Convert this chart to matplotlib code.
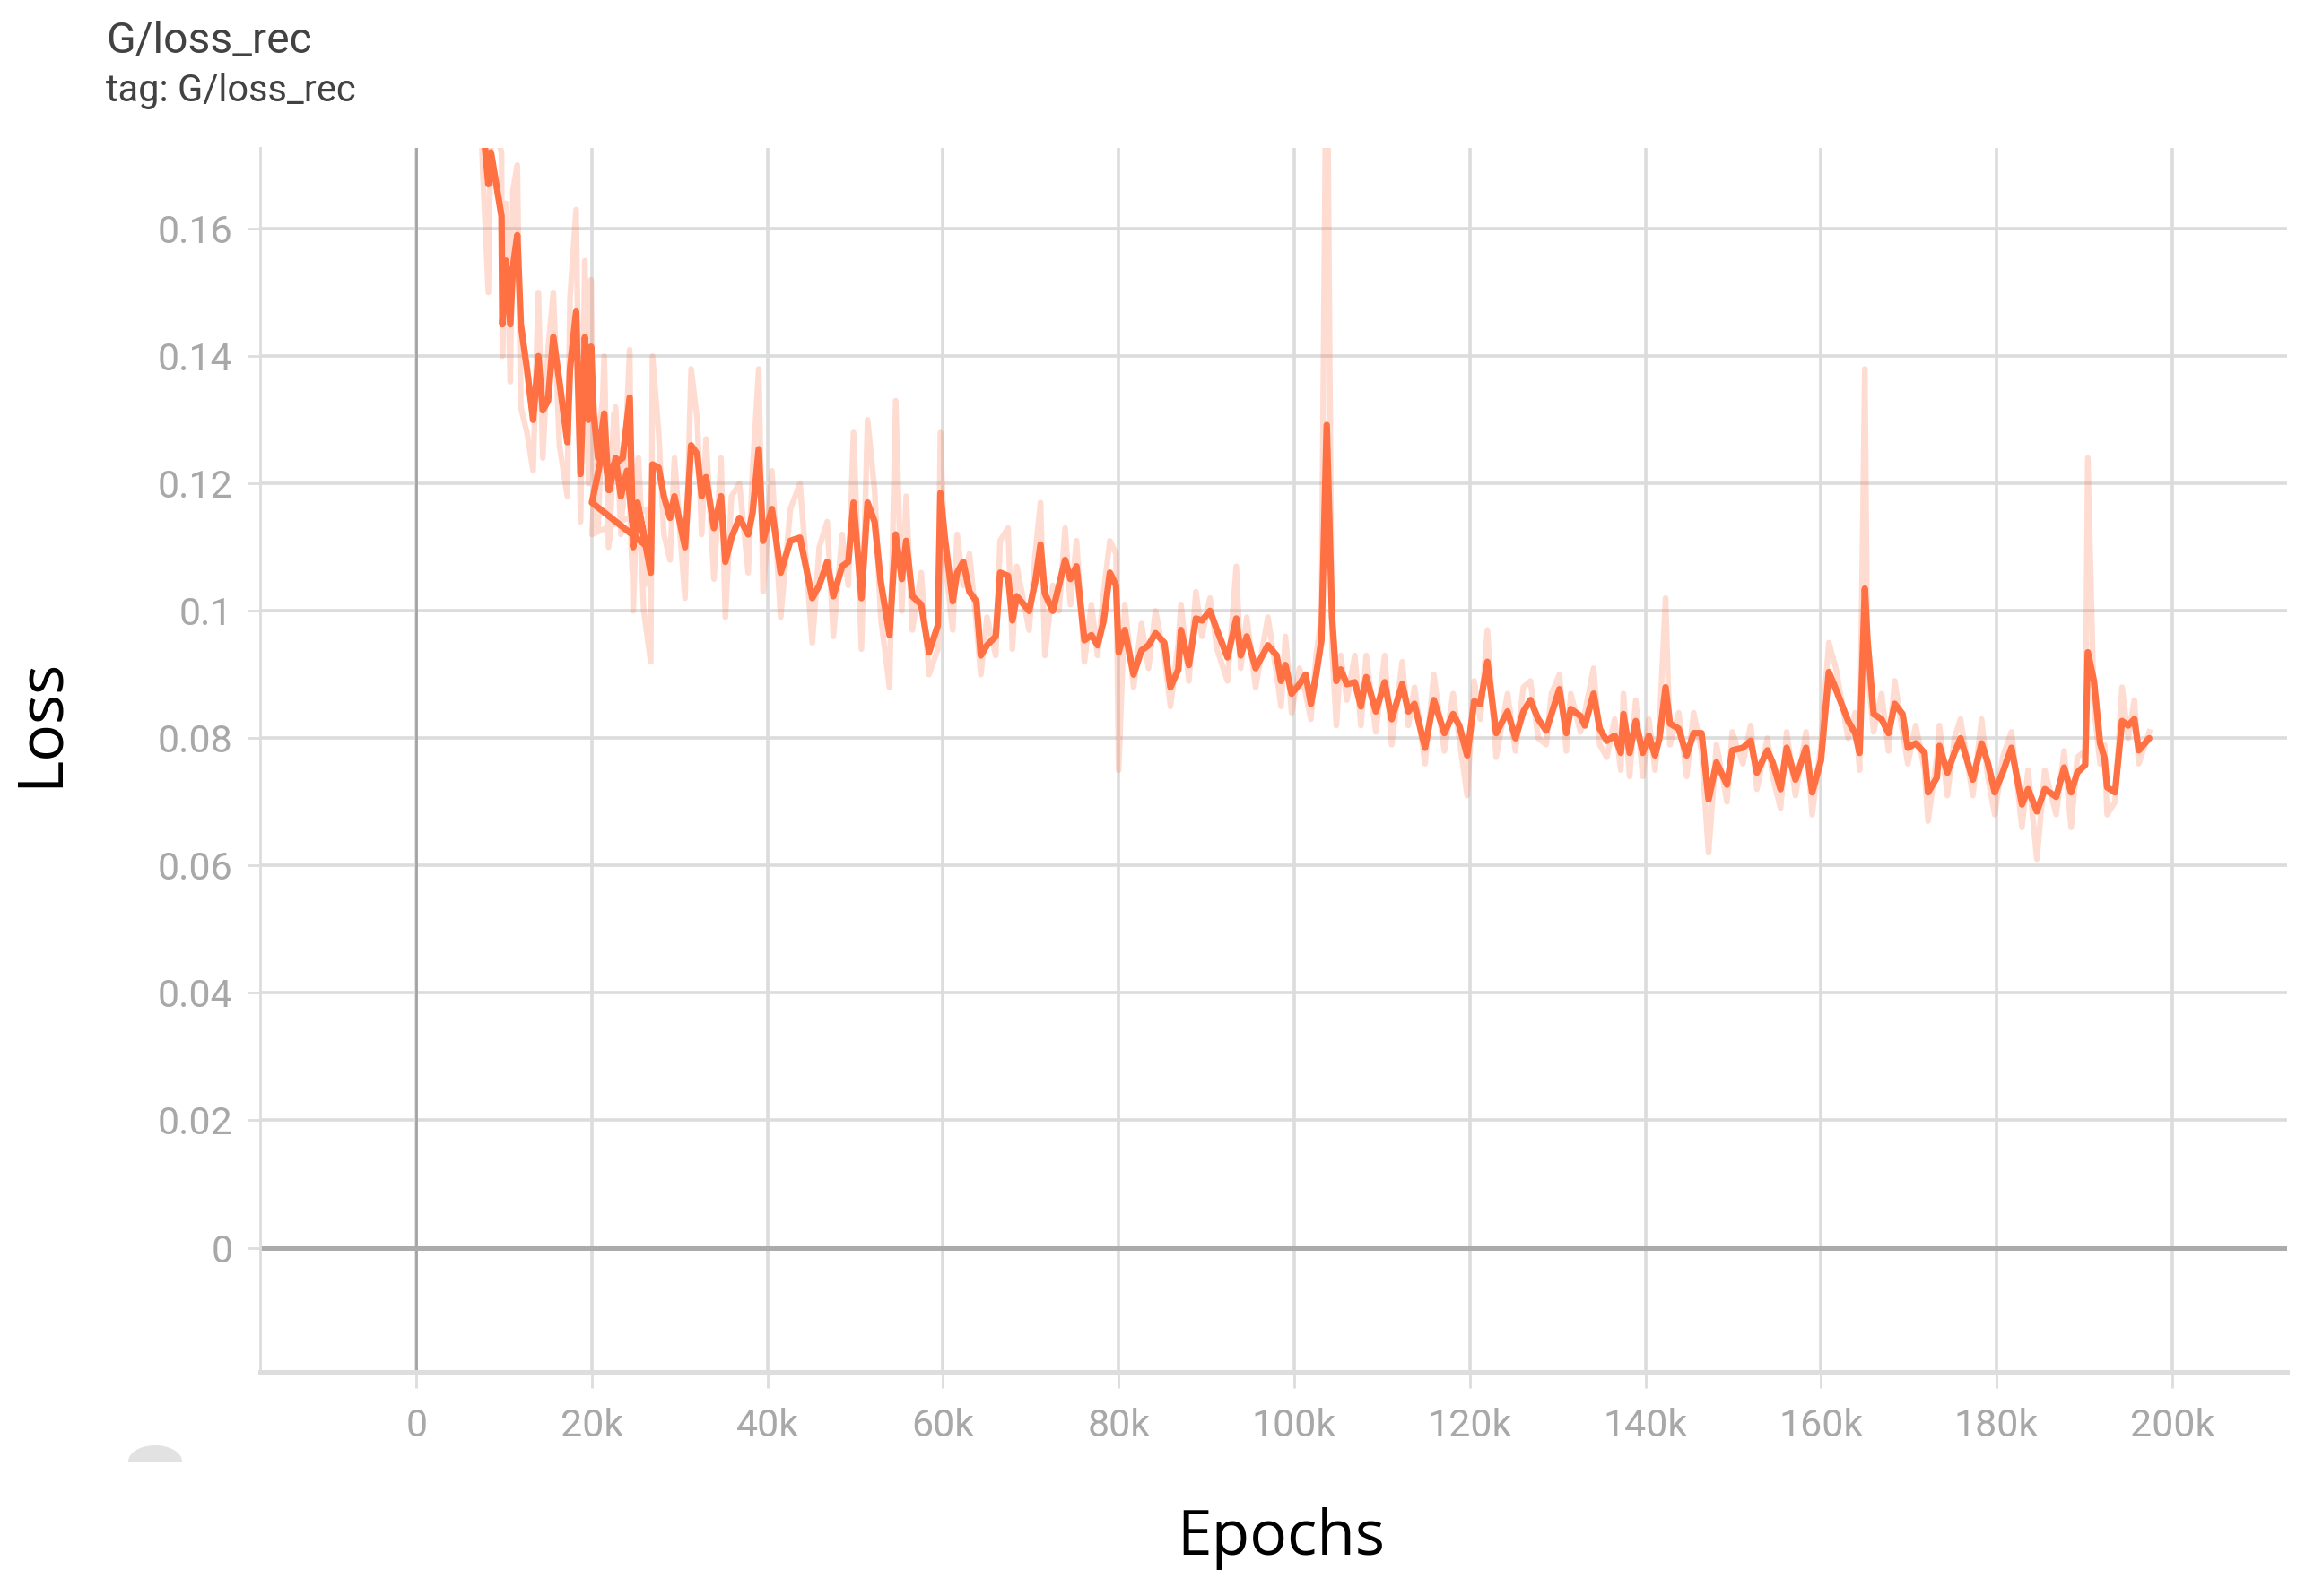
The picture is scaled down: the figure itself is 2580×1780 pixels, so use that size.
import matplotlib
matplotlib.use("Agg")
import matplotlib.pyplot as plt
import matplotlib.patches as mpatches

# ---------------- data (steps in thousands) ----------------
# first run segment (ends at ~26.4k, then the log restarts at 20k)
steps_a = [7.0, 7.6, 8.2, 8.5, 9.7, 9.8, 10.2, 10.7, 11.0, 11.5, 11.9, 12.6, 13.3, 13.9,
           14.4, 15.0, 15.6, 16.3, 17.2, 17.5, 18.2, 18.7, 19.2, 19.6, 19.9, 20.2, 20.7,
           21.4, 21.9, 22.5, 23.5, 24.3, 24.7, 25.3, 26.0, 26.4]
smooth_a = [0.186, 0.176, 0.167, 0.172, 0.162, 0.145, 0.155, 0.145, 0.154, 0.159, 0.145,
            0.138, 0.130, 0.140, 0.1315, 0.133, 0.143, 0.136, 0.1265, 0.138, 0.147, 0.1215,
            0.143, 0.130, 0.1415, 0.131, 0.124, 0.131, 0.119, 0.123, 0.124, 0.1335, 0.110,
            0.116, 0.111, 0.110]
raw_a = [0.190, 0.168, 0.150, 0.178, 0.172, 0.140, 0.164, 0.136, 0.166, 0.170, 0.132,
         0.128, 0.122, 0.150, 0.124, 0.141, 0.150, 0.126, 0.118, 0.149, 0.163, 0.114,
         0.155, 0.120, 0.152, 0.124, 0.113, 0.140, 0.110, 0.131, 0.116, 0.141, 0.100,
         0.124, 0.104, 0.116]

# second run segment (restarted at 20k)
steps_b = [20.0, 20.6, 21.3, 22.0, 22.7, 23.3, 24.0, 24.6, 25.2, 25.9, 26.7, 26.9, 27.6,
           28.2, 28.9, 29.4, 30.6, 31.3, 32.0, 32.5, 33.0, 33.9, 34.7, 35.2, 35.9, 36.8,
           37.8, 38.3, 39.0, 39.5, 40.5, 41.5, 42.6, 43.7, 45.1, 45.9, 46.8, 47.5, 48.5,
           49.2, 49.8, 50.7, 51.4, 52.2, 52.9, 53.9, 54.6, 55.3, 55.8, 56.5, 57.5, 58.4,
           59.4, 59.7, 60.2, 61.1, 61.6, 62.3, 63.0, 63.8, 64.3, 65.0, 66.0, 66.5, 67.4,
           67.9, 68.4, 69.8, 70.5, 71.1, 71.6, 72.5, 73.2, 73.9, 74.5, 75.2, 76.1, 76.9,
           77.6, 78.3, 79.0, 79.7, 80.0, 80.7, 81.7, 82.6, 83.4, 84.2, 85.2, 85.9, 86.8,
           87.1, 88.0, 88.8, 89.5, 90.4, 91.2, 92.4, 93.4, 93.9, 94.6, 95.6, 97.0, 98.0,
           98.5, 99.0, 99.7, 100.6, 101.3, 101.9, 102.5, 103.1, 103.7, 104.3, 104.8, 105.3,
           106.0, 106.9, 107.6, 108.2, 109.3, 110.3, 111.1, 112.3, 113.0, 113.7, 114.9,
           115.9, 117.1, 118.1, 118.8, 119.7, 120.5, 121.2, 122.0, 123.0, 124.3, 125.2,
           126.1, 126.9, 127.8, 128.7, 129.3, 130.2, 131.0, 131.5, 132.6, 133.1, 134.1,
           134.8, 135.6, 136.5, 137.2, 137.5, 138.2, 138.9, 139.7, 140.4, 141.1, 141.6,
           142.3, 142.8, 143.8, 144.7, 145.5, 146.4, 147.2, 148.1, 149.3, 149.9, 151.1,
           152.0, 152.7, 153.9, 154.5, 155.4, 156.1, 157.1, 158.3, 159.0, 160.0, 160.9,
           161.7, 163.1, 163.9, 164.4, 165.0, 165.3, 166.0, 166.9, 167.7, 168.4, 169.3,
           169.9, 170.8, 171.8, 172.2, 173.2, 173.5, 174.4, 175.2, 175.9, 177.3, 178.3,
           179.0, 179.8, 180.7, 181.7, 182.9, 183.6, 184.6, 185.5, 186.8, 187.7, 188.5,
           189.2, 190.1, 190.4, 191.1, 191.8, 192.3, 192.6, 193.5, 194.3, 195.0, 195.7,
           196.2, 197.4]
smooth_b = [0.117, 0.121, 0.126, 0.119, 0.124, 0.118, 0.122, 0.114, 0.117, 0.112, 0.106,
            0.123, 0.1225, 0.118, 0.1146, 0.118, 0.110, 0.126, 0.1246, 0.118, 0.121, 0.113,
            0.118, 0.1077, 0.1115, 0.1146, 0.112, 0.1154, 0.1254, 0.111, 0.116, 0.106,
            0.111, 0.1115, 0.102, 0.104, 0.1077, 0.1023, 0.107, 0.1077, 0.117, 0.102,
            0.117, 0.114, 0.1046, 0.0962, 0.112, 0.105, 0.111, 0.1023, 0.101, 0.0935,
            0.0977, 0.1185, 0.1115, 0.1015, 0.106, 0.1077, 0.103, 0.1015, 0.093, 0.0946,
            0.096, 0.106, 0.1055, 0.0985, 0.1023, 0.100, 0.1046, 0.1104, 0.1027, 0.100,
            0.104, 0.108, 0.105, 0.107, 0.0954, 0.0962, 0.0946, 0.0985, 0.106, 0.104,
            0.0935, 0.097, 0.090, 0.0938, 0.0946, 0.0965, 0.095, 0.088, 0.0908, 0.097,
            0.0915, 0.0988, 0.0985, 0.100, 0.097, 0.0927, 0.0988, 0.093, 0.096, 0.091,
            0.0946, 0.093, 0.089, 0.0915, 0.087, 0.0885, 0.090, 0.0854, 0.090, 0.0954,
            0.1292, 0.0992, 0.089, 0.0908, 0.0885, 0.0888, 0.085, 0.0896, 0.0842, 0.0888,
            0.083, 0.0885, 0.0842, 0.0854, 0.0785, 0.086, 0.0808, 0.0838, 0.082, 0.0773,
            0.0858, 0.0854, 0.092, 0.0808, 0.0842, 0.080, 0.0842, 0.086, 0.083, 0.0812,
            0.0838, 0.0877, 0.0808, 0.0846, 0.0835, 0.082, 0.087, 0.0815, 0.0796, 0.0804,
            0.0777, 0.0838, 0.0777, 0.0827, 0.0777, 0.0804, 0.0773, 0.080, 0.088, 0.0823,
            0.0815, 0.0773, 0.0808, 0.0808, 0.0704, 0.0762, 0.0727, 0.0781, 0.0785, 0.0796,
            0.0746, 0.0781, 0.0762, 0.072, 0.0785, 0.0735, 0.0785, 0.0715, 0.0765, 0.0904,
            0.0877, 0.0827, 0.0808, 0.0777, 0.1035, 0.0954, 0.0838, 0.083, 0.0808, 0.0854,
            0.0838, 0.0785, 0.0792, 0.0777, 0.0715, 0.0738, 0.0788, 0.0746, 0.0777, 0.080,
            0.0735, 0.0792, 0.0762, 0.0715, 0.0746, 0.0785, 0.0696, 0.072, 0.0685, 0.072,
            0.0708, 0.0754, 0.0715, 0.0746, 0.0758, 0.0935, 0.089, 0.0792, 0.0769, 0.0723,
            0.0715, 0.0827, 0.082, 0.083, 0.0781, 0.080]
raw_b = [0.112, 0.128, 0.133, 0.111, 0.132, 0.112, 0.129, 0.106, 0.123, 0.100, 0.092,
         0.140, 0.128, 0.112, 0.108, 0.124, 0.102, 0.138, 0.130, 0.112, 0.127, 0.105,
         0.124, 0.099, 0.118, 0.120, 0.106, 0.122, 0.138, 0.103, 0.122, 0.099, 0.116,
         0.120, 0.095, 0.110, 0.114, 0.096, 0.112, 0.104, 0.128, 0.094, 0.130, 0.119,
         0.099, 0.088, 0.133, 0.100, 0.118, 0.097, 0.106, 0.090, 0.094, 0.128, 0.108,
         0.097, 0.112, 0.104, 0.109, 0.098, 0.090, 0.099, 0.093, 0.111, 0.113, 0.094,
         0.107, 0.097, 0.109, 0.117, 0.093, 0.104, 0.100, 0.113, 0.101, 0.111, 0.092,
         0.101, 0.093, 0.103, 0.111, 0.109, 0.075, 0.101, 0.088, 0.098, 0.091, 0.100,
         0.093, 0.085, 0.095, 0.101, 0.089, 0.103, 0.096, 0.102, 0.094, 0.089, 0.107,
         0.091, 0.099, 0.088, 0.099, 0.090, 0.085, 0.096, 0.084, 0.091, 0.087, 0.083,
         0.093, 0.099, 0.200, 0.094, 0.082, 0.093, 0.086, 0.093, 0.082, 0.093, 0.081,
         0.093, 0.079, 0.092, 0.082, 0.088, 0.076, 0.090, 0.078, 0.087, 0.080, 0.071,
         0.089, 0.083, 0.097, 0.077, 0.087, 0.078, 0.088, 0.089, 0.080, 0.079, 0.087,
         0.090, 0.078, 0.087, 0.081, 0.084, 0.091, 0.079, 0.077, 0.083, 0.075, 0.087,
         0.074, 0.086, 0.074, 0.083, 0.075, 0.082, 0.102, 0.079, 0.084, 0.074, 0.084,
         0.078, 0.062, 0.079, 0.070, 0.081, 0.076, 0.082, 0.072, 0.080, 0.074, 0.069,
         0.081, 0.071, 0.081, 0.068, 0.079, 0.095, 0.091, 0.080, 0.084, 0.075, 0.138,
         0.091, 0.081, 0.087, 0.078, 0.089, 0.081, 0.076, 0.082, 0.075, 0.067, 0.077,
         0.082, 0.071, 0.080, 0.083, 0.071, 0.083, 0.074, 0.068, 0.077, 0.081, 0.066,
         0.075, 0.061, 0.075, 0.068, 0.078, 0.066, 0.077, 0.078, 0.124, 0.085, 0.076,
         0.079, 0.068, 0.070, 0.088, 0.080, 0.086, 0.076, 0.081]

x_ticks = [0, 20, 40, 60, 80, 100, 120, 140, 160, 180, 200]
x_tick_labels = ["0", "20k", "40k", "60k", "80k", "100k", "120k", "140k", "160k", "180k", "200k"]
y_ticks = [0, 0.02, 0.04, 0.06, 0.08, 0.10, 0.12, 0.14, 0.16]
y_tick_labels = ["0", "0.02", "0.04", "0.06", "0.08", "0.1", "0.12", "0.14", "0.16"]

title_text = "G/loss_rec"
tag_text = "tag: G/loss_rec"
x_label = "Epochs"
y_label = "Loss"

# ---------------- figure ----------------
W, H = 2580, 1780
DPI = 200
fig = plt.figure(figsize=(W / DPI, H / DPI), dpi=DPI)
fig.patch.set_facecolor("white")

ax = fig.add_axes([290 / W, 1 - 1530 / H, (2550 - 290) / W, (1530 - 165) / H])
ax.set_xlim(-17.8, 213.1)
ax.set_ylim(-0.0195, 0.1727)

LINE = "#ff7043"
steps_all = steps_a + steps_b
raw_all = raw_a + raw_b
smooth_all = smooth_a + smooth_b

ax.plot(steps_all, raw_all, color=LINE, alpha=0.24, lw=2.3, zorder=3,
        solid_joinstyle="round")
ax.plot(steps_all, smooth_all, color=LINE, lw=2.6, zorder=4,
        solid_joinstyle="round", solid_capstyle="round")

# grid & zero lines
ax.set_xticks(x_ticks)
ax.set_xticklabels(x_tick_labels)
ax.set_yticks(y_ticks)
ax.set_yticklabels(y_tick_labels)
ax.grid(True, color="#dcdcdc", lw=1.3, zorder=0)
ax.set_axisbelow(True)
ax.axvline(0, color="#a4a4a4", lw=1.0, zorder=1)
ax.axhline(0, color="#ababab", lw=1.8, zorder=1)

for s in ("top", "right"):
    ax.spines[s].set_visible(False)
ax.spines["left"].set_color("#dddddd")
ax.spines["left"].set_linewidth(1.0)
ax.spines["bottom"].set_color("#dddddd")
ax.spines["bottom"].set_linewidth(1.8)

ax.tick_params(axis="x", length=6.5, width=1.0, color="#dddddd", pad=8,
               labelcolor="#a8a8a8", labelsize=15.5)
ax.tick_params(axis="y", length=5, width=1.0, color="#dddddd", pad=6,
               labelcolor="#a8a8a8", labelsize=15.5)
for lab in ax.get_xticklabels() + ax.get_yticklabels():
    lab.set_family(["Roboto", "DejaVu Sans"])

# titles
fig.text(118 / W, 1 - 46 / H, title_text, ha="left", va="center",
         family=["Roboto", "DejaVu Sans"], size=17.3, color="#424242")
fig.text(118 / W, 1 - 102 / H, tag_text, ha="left", va="center",
         family=["Roboto", "DejaVu Sans"], size=15, color="#424242")

# axis labels
fig.text(1428 / W, 1 - 1716 / H, x_label, ha="center", va="center",
         family=["Open Sans", "DejaVu Sans"], size=25, color="black")
fig.text(46 / W, 1 - 806 / H, y_label, ha="center", va="center", rotation=90,
         family=["Open Sans", "DejaVu Sans"], size=25, color="black")

# faint UI artifact at lower left
iax = fig.add_axes([143 / W, 1 - 1630 / H, 60 / W, 36 / H])
iax.set_xlim(0, 1)
iax.set_ylim(0, 1)
iax.axis("off")
iax.add_patch(mpatches.Wedge((0.5, 0.0), 0.5, 0, 180, transform=iax.transAxes,
                             color="#e2e2e2", lw=0))

fig.savefig("out.png", dpi=DPI, facecolor="white")
